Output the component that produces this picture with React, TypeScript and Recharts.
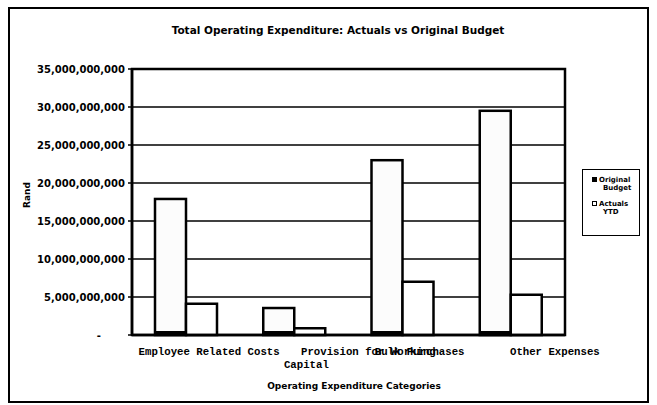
import { BarChart, Bar, XAxis, YAxis, CartesianGrid, ReferenceArea } from 'recharts';

const categories = [
  'Employee Related Costs',
  'Provision for Working Capital',
  'Bulk Purchases',
  'Other Expenses',
];
const originalBudget = [17.9e9, 3.55e9, 23.0e9, 29.5e9];
const actualsYtd = [4.1e9, 0.9e9, 7.0e9, 5.3e9];
const yTicks = [0, 5e9, 10e9, 15e9, 20e9, 25e9, 30e9, 35e9];
const seriesNames = ['Original Budget', 'Actuals YTD'];

const data = categories.map((name, i) => ({
  name,
  budget: originalBudget[i],
  actuals: actualsYtd[i],
}));

const SANS = '"DejaVu Sans", sans-serif';
const MONO = '"Liberation Mono", monospace';

// the wrapped category labels sit off-centre in the original, nudge each line
const labelNudge = [[23], [74, 12], [17], [44]];

function wrap(label: string, max = 22) {
  const lines: string[] = [];
  let cur = '';
  label.split(' ').forEach((w) => {
    const next = cur ? cur + ' ' + w : w;
    if (next.length > max && cur) {
      lines.push(cur);
      cur = w;
    } else cur = next;
  });
  if (cur) lines.push(cur);
  return lines;
}

function CategoryTick(props: any) {
  const { x, y, payload } = props;
  const idx = payload.index ?? props.index ?? 0;
  const lines = wrap(String(payload.value));
  return (
    <g>
      {lines.map((line, j) => (
        <text
          key={j}
          x={x + (labelNudge[idx]?.[j] ?? 0)}
          y={y + 17 + j * 13}
          textAnchor="middle"
          dominantBaseline="central"
          fontFamily={MONO}
          fontWeight="bold"
          fontSize={10.7}
          fill="#000"
        >
          {line}
        </text>
      ))}
    </g>
  );
}

function ValueTick(props: any) {
  const { x, y, payload } = props;
  const v = payload.value as number;
  return (
    <text
      x={v === 0 ? x - 24 : x}
      y={y}
      textAnchor="end"
      dominantBaseline="central"
      fontFamily={SANS}
      fontWeight="bold"
      fontSize={10}
      fill="#000"
    >
      {v === 0 ? '-' : v.toLocaleString('en-US')}
    </text>
  );
}

function BudgetBar(props: any) {
  const { x, y, width, height } = props;
  if (!height) return null;
  return (
    <g>
      <rect x={x} y={y} width={width} height={height} fill="#fcfcfc" stroke="#000" strokeWidth={2.5} />
      <rect x={x} y={y + height - 4} width={width} height={4} fill="#000" />
    </g>
  );
}

export default function App() {
  return (
    <div style={{ position: 'absolute', left: 0, top: 0, width: 657, height: 405, background: '#fff' }}>
      <div
        style={{
          position: 'absolute',
          left: 8,
          top: 7,
          width: 641,
          height: 396,
          border: '2px solid #000',
          boxSizing: 'border-box',
        }}
      />
      <div
        style={{
          position: 'absolute',
          left: 0,
          width: 676,
          top: 23,
          textAlign: 'center',
          fontFamily: SANS,
          fontWeight: 'bold',
          fontSize: 10.5,
          lineHeight: '14px',
        }}
      >
        Total Operating Expenditure: Actuals vs Original Budget
      </div>
      <div
        style={{
          position: 'absolute',
          left: 0,
          width: 708,
          top: 380,
          textAlign: 'center',
          fontFamily: SANS,
          fontWeight: 'bold',
          fontSize: 9,
          lineHeight: '12px',
        }}
      >
        Operating Expenditure Categories
      </div>
      <div
        style={{
          position: 'absolute',
          left: 27,
          top: 195,
          transform: 'translate(-50%, -50%) rotate(-90deg)',
          fontFamily: SANS,
          fontWeight: 'bold',
          fontSize: 9,
          lineHeight: '12px',
          whiteSpace: 'nowrap',
        }}
      >
        Rand
      </div>

      <BarChart
        width={657}
        height={405}
        data={data}
        margin={{ top: 69, right: 92, bottom: 0, left: 0 }}
        barCategoryGap={23}
        barGap={0}
        style={{ position: 'absolute', left: 0, top: 0 }}
      >
        <CartesianGrid vertical={false} stroke="#000" strokeWidth={1.6} />
        <ReferenceArea y1={0} y2={35e9} fill="none" stroke="#000" strokeWidth={2.5} />
        <XAxis
          dataKey="name"
          height={70}
          interval={0}
          tickLine={false}
          tickSize={0}
          tickMargin={0}
          axisLine={{ stroke: '#000', strokeWidth: 2.5 }}
          tick={<CategoryTick />}
        />
        <YAxis
          width={132}
          domain={[0, 35e9]}
          ticks={yTicks}
          interval={0}
          tickSize={4}
          tickMargin={3}
          tickLine={{ stroke: '#000', strokeWidth: 1.5 }}
          axisLine={{ stroke: '#000', strokeWidth: 2.5 }}
          tick={<ValueTick />}
        />
        <Bar dataKey="budget" name={seriesNames[0]} fill="#000" shape={<BudgetBar />} isAnimationActive={false} />
        <Bar dataKey="actuals" name={seriesNames[1]} fill="#fff" stroke="#000" strokeWidth={2.5} isAnimationActive={false} />
      </BarChart>

      <div
        style={{
          position: 'absolute',
          left: 582,
          top: 169,
          width: 58,
          height: 67,
          border: '1px solid #000',
          boxSizing: 'border-box',
          fontFamily: SANS,
          fontWeight: 'bold',
          fontSize: 7,
          lineHeight: '8px',
          padding: '6px 0 0 10px',
        }}
      >
        {seriesNames.map((name, i) => {
          const [first, ...rest] = name.split(' ');
          return (
            <div key={name} style={{ position: 'relative', marginBottom: 8 }}>
              <span
                style={{
                  position: 'absolute',
                  left: -1,
                  top: 1,
                  width: 5,
                  height: 5,
                  boxSizing: 'border-box',
                  border: '1px solid #000',
                  background: i === 0 ? '#000' : '#fff',
                }}
              />
              <div style={{ paddingLeft: 6 }}>{first}</div>
              <div style={{ paddingLeft: 10 }}>{rest.join(' ')}</div>
            </div>
          );
        })}
      </div>
    </div>
  );
}
